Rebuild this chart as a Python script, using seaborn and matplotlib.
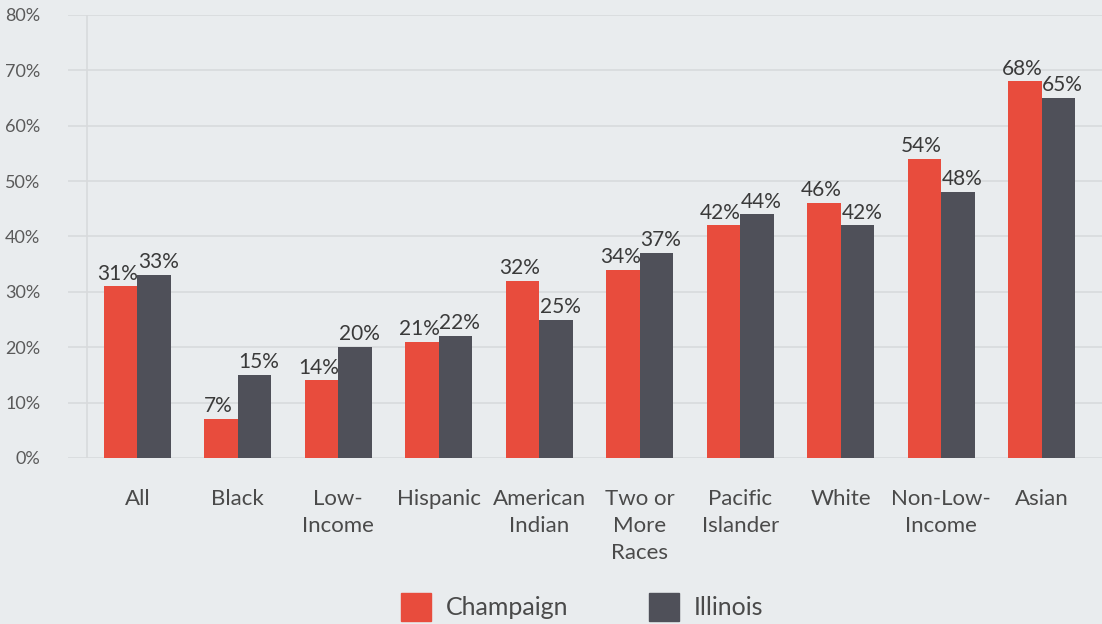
import pandas as pd
import seaborn as sns
import matplotlib.pyplot as plt

categories = ["All", "Black", "Low-\nIncome", "Hispanic", "American\nIndian",
              "Two or\nMore\nRaces", "Pacific\nIslander", "White",
              "Non-Low-\nIncome", "Asian"]
champaign = [31, 7, 14, 21, 32, 34, 42, 46, 54, 68]
illinois = [33, 15, 20, 22, 25, 37, 44, 42, 48, 65]
series = ["Champaign", "Illinois"]
yticks = [0, 10, 20, 30, 40, 50, 60, 70, 80]

bg = "#e9ecee"
colors = ["#e84c3d", "#4f5059"]

df = pd.DataFrame({
    "category": categories * 2,
    "value": champaign + illinois,
    "region": [series[0]] * len(categories) + [series[1]] * len(categories),
})

sns.set_style("white")
plt.rcParams['font.family'] = ['Lato', 'DejaVu Sans']

fig = plt.figure(figsize=(11.02, 6.24), dpi=100, facecolor=bg)
ax = fig.add_axes([68 / 1102, 1 - 458 / 624, 1 - 68 / 1102, (458 - 15) / 624])
ax.set_facecolor(bg)

sns.barplot(data=df, x="category", y="value", hue="region", order=categories,
            hue_order=series, palette=colors, width=0.67, saturation=1,
            linewidth=0, ax=ax, legend=False)

# value labels, nudged apart a little so neighbours don't collide
for cont, dx in zip(ax.containers, [-2, 3]):
    for b in cont:
        h = b.get_height()
        ax.annotate(f"{int(round(h))}%", (b.get_x() + b.get_width() / 2, h),
                    xytext=(dx, 2), textcoords="offset points",
                    ha="center", va="bottom", fontsize=15, color="#3a3a3a")

ax.set_ylim(0, 80)
ax.set_xlim(-0.69, 9.6)
ax.set_yticks(yticks)
ax.set_yticklabels([f"{t}%" for t in yticks])
ax.yaxis.grid(True, color="#d8dadc", linewidth=1.2)
ax.set_axisbelow(True)
ax.axvline(-0.5, color="#d8dadc", linewidth=1.2, zorder=0)
for s in ax.spines.values():
    s.set_visible(False)
ax.tick_params(axis="y", length=0, pad=20, labelsize=13, labelcolor="#5a5a5a")
ax.tick_params(axis="x", length=0, pad=22, labelsize=16, labelcolor="#4a4a4a")
for lbl in ax.get_xticklabels():
    lbl.set_linespacing(1.45)
    lbl.set_verticalalignment("top")
ax.set_xlabel("")
ax.set_ylabel("")

handles = [plt.Rectangle((0, 0), 1, 1, color=c) for c in colors]
leg = fig.legend(handles, series, loc="center", bbox_to_anchor=(582 / 1102, 1 - 607 / 624),
                 ncol=2, frameon=False, fontsize=18, handlelength=1.2, handleheight=1.3,
                 columnspacing=3.2, handletextpad=0.6)
for t in leg.get_texts():
    t.set_color("#4a4a4a")

plt.savefig("out.png", dpi=100, facecolor=bg)
plt.close()
